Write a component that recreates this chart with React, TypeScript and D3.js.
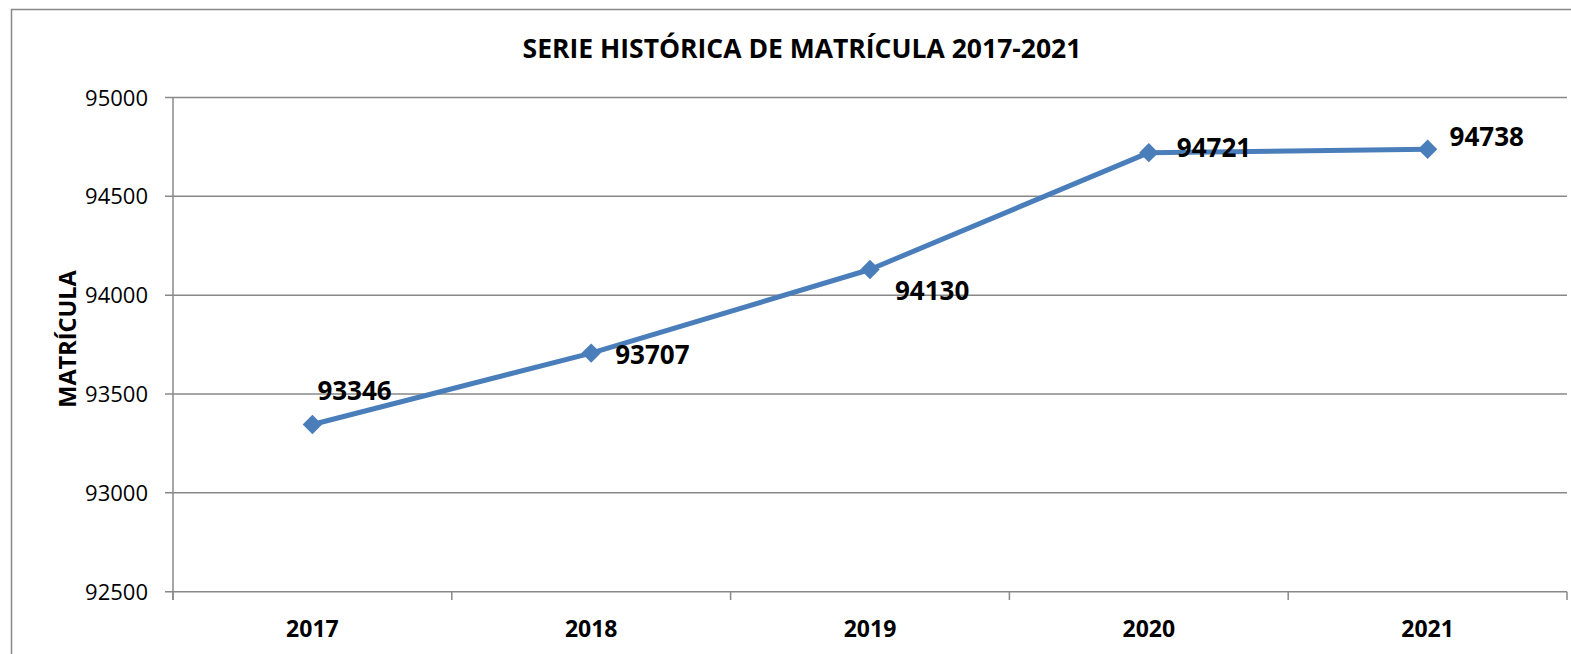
import React from "react";
import * as d3 from "d3";

const years = ["2017", "2018", "2019", "2020", "2021"];
const matricula = [93346, 93707, 94130, 94721, 94738];
const yTicks = [92500, 93000, 93500, 94000, 94500, 95000];
const title = "SERIE HISTÓRICA DE MATRÍCULA 2017-2021";
const yTitle = "MATRÍCULA";

// label placement offsets (dx from point to text start, dy from point to baseline)
const labelOffsets: [number, number][] = [
  [5, -24],
  [24, 11],
  [25, 31],
  [28, 4],
  [22, -3],
];

const W = 1571;
const H = 654;
const left = 173;
const right = 1567;
const top = 97.5;
const bottom = 591.7;
const gridColor = "#888888";
const lineColor = "#4A7EBB";
const FONT = "'Open Sans', 'Liberation Sans', sans-serif";

export default function App() {
  const x = d3.scaleBand<string>().domain(years).range([left, right]).padding(0);
  const y = d3.scaleLinear().domain([92500, 95000]).range([bottom, top]);
  const cx = (d: string) => (x(d) as number) + x.bandwidth() / 2;
  const line = d3
    .line<number>()
    .x((_, i) => cx(years[i]))
    .y((v) => y(v));
  const diamond = d3.symbol().type(d3.symbolDiamond2).size(240)();

  const boundaries = [...years.map((d) => x(d) as number), right];

  return (
    <svg
      width={W}
      height={H}
      style={{ position: "absolute", left: 0, top: 0, display: "block", background: "#fff" }}
      fontFamily={FONT}
    >
      <rect x={11.5} y={9.5} width={W + 20} height={H + 20} fill="#fff" stroke={gridColor} strokeWidth={1.5} />
      <text x={802} y={58} textAnchor="middle" fontWeight="bold" fontSize={26.5} fill="#000">
        {title}
      </text>
      <text
        transform={`translate(76, ${339}) rotate(-90)`}
        textAnchor="middle"
        fontWeight="bold"
        fontSize={23.5}
        fill="#000"
      >
        {yTitle}
      </text>
      {yTicks.map((t) => (
        <g key={t}>
          <line x1={165} x2={right} y1={y(t)} y2={y(t)} stroke={gridColor} strokeWidth={1.5} />
          <text x={148} y={y(t) + 8} textAnchor="end" fontSize={22} fill="#000">
            {t}
          </text>
        </g>
      ))}
      <line x1={left} x2={left} y1={top} y2={600} stroke={gridColor} strokeWidth={1.5} />
      {boundaries.map((b, i) => (
        <line key={i} x1={b} x2={b} y1={bottom} y2={600} stroke={gridColor} strokeWidth={1.5} />
      ))}
      {years.map((d) => (
        <text key={d} x={cx(d)} y={637} textAnchor="middle" fontWeight="bold" fontSize={23} fill="#000">
          {d}
        </text>
      ))}
      <path d={line(matricula) || ""} fill="none" stroke={lineColor} strokeWidth={5} strokeLinejoin="round" />
      {matricula.map((v, i) => (
        <path key={i} d={diamond || ""} transform={`translate(${cx(years[i])}, ${y(v)})`} fill={lineColor} />
      ))}
      {matricula.map((v, i) => (
        <text
          key={i}
          x={cx(years[i]) + labelOffsets[i][0]}
          y={y(v) + labelOffsets[i][1]}
          fontWeight="bold"
          fontSize={26}
          fill="#000"
        >
          {v}
        </text>
      ))}
    </svg>
  );
}
